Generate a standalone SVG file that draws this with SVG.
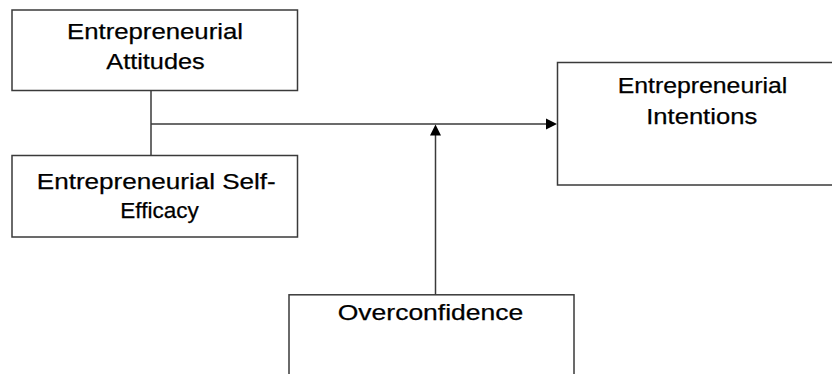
<svg xmlns="http://www.w3.org/2000/svg" width="832" height="374" viewBox="0 0 832 374">
  <style>
    .box { fill: #ffffff; stroke: #3a3a3a; stroke-width: 1.5; }
    .lbl { font-family: "Liberation Sans", Arial, sans-serif; font-size: 22px; fill: #000000; stroke: #000000; stroke-width: 0.25; text-anchor: middle; }
    .wire { fill: none; stroke: #3a3a3a; stroke-width: 1.5; }
    .head { fill: #000000; }
  </style>
  <rect width="832" height="374" fill="#ffffff"/>

  <g id="connectors">
    <!-- bracket joining the two predictor boxes -->
    <line class="wire" x1="151" y1="90" x2="151" y2="155"/>
    <!-- main path into intentions -->
    <line class="wire" x1="151" y1="124" x2="548" y2="124"/>
    <polygon class="head" points="557,124 546,118.5 546,129.5"/>
    <!-- moderator path from overconfidence -->
    <line class="wire" x1="435.5" y1="295" x2="435.5" y2="134"/>
    <polygon class="head" points="435.5,124.5 430,135.5 441,135.5"/>
  </g>

  <g id="node-attitudes">
    <rect class="box" x="12" y="10" width="285.5" height="80.5"/>
    <text class="lbl" x="155" y="38.5" textLength="176" lengthAdjust="spacingAndGlyphs">Entrepreneurial</text>
    <text class="lbl" x="155.5" y="69" textLength="98.5" lengthAdjust="spacingAndGlyphs">Attitudes</text>
  </g>

  <g id="node-self-efficacy">
    <rect class="box" x="12" y="155.5" width="285.5" height="81.5"/>
    <text class="lbl" x="156.3" y="188.5" textLength="239" lengthAdjust="spacingAndGlyphs">Entrepreneurial Self-</text>
    <text class="lbl" x="159.5" y="217.5" textLength="78.5" lengthAdjust="spacingAndGlyphs">Efficacy</text>
  </g>

  <g id="node-intentions">
    <rect class="box" x="557.5" y="62.5" width="290" height="122.5"/>
    <text class="lbl" x="702.5" y="92.5" textLength="169.5" lengthAdjust="spacingAndGlyphs">Entrepreneurial</text>
    <text class="lbl" x="701.7" y="123.5" textLength="111" lengthAdjust="spacingAndGlyphs">Intentions</text>
  </g>

  <g id="node-overconfidence">
    <rect class="box" x="289" y="294.8" width="285" height="100"/>
    <text class="lbl" x="430.5" y="319.8" textLength="185.5" lengthAdjust="spacingAndGlyphs">Overconfidence</text>
  </g>
</svg>
